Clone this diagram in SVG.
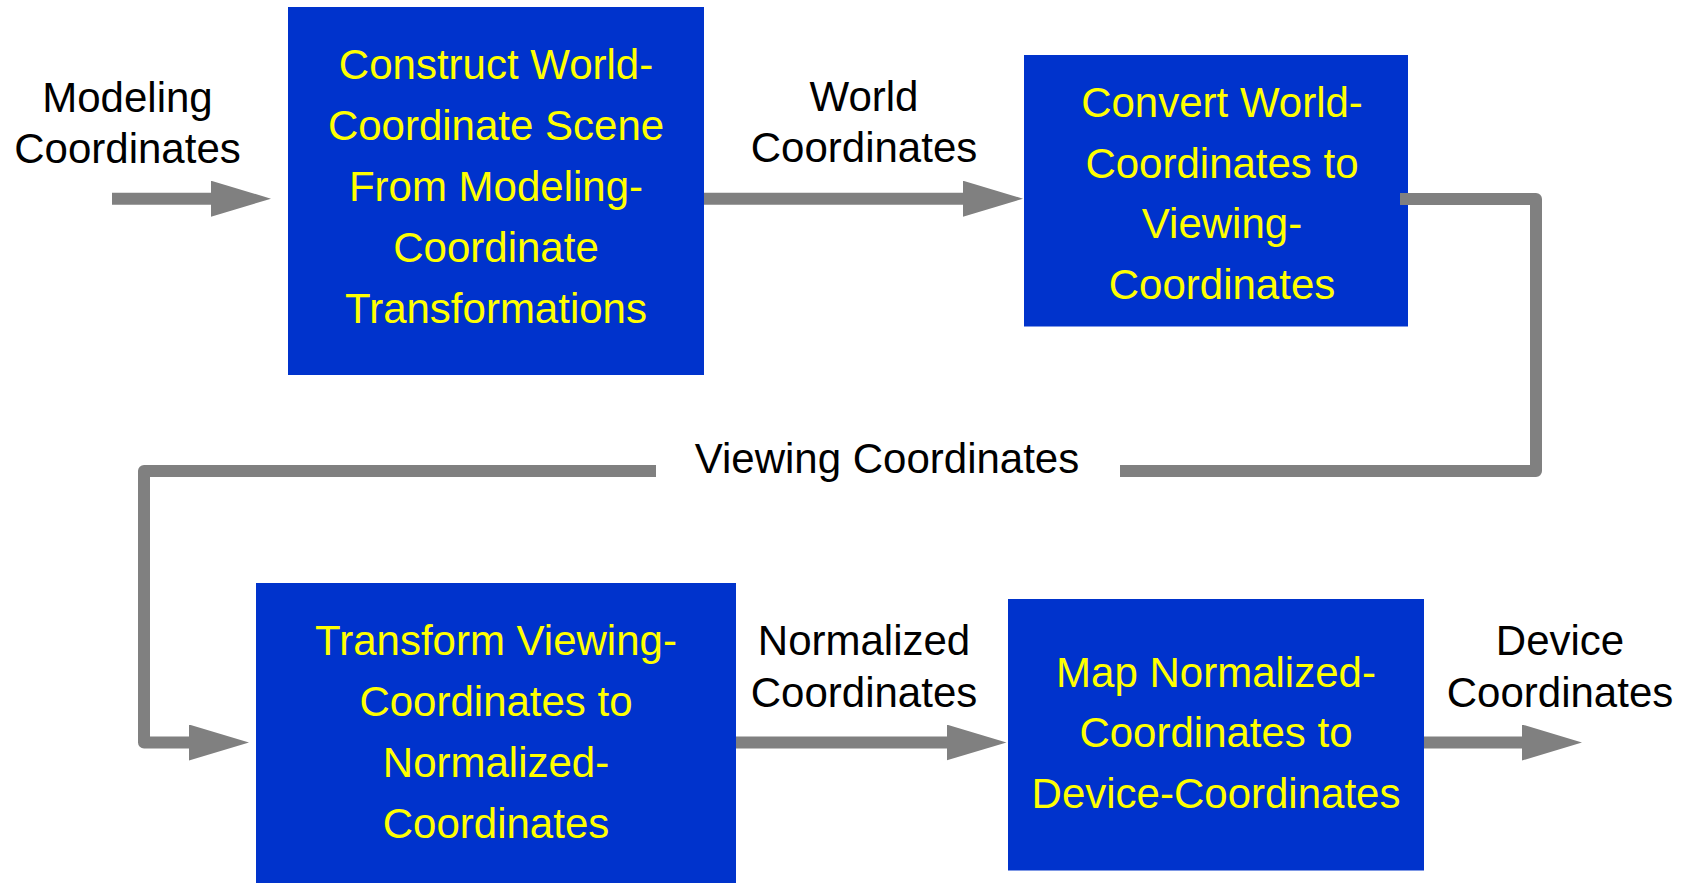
<svg xmlns="http://www.w3.org/2000/svg" width="1693" height="883" viewBox="0 0 1693 883">
<defs>
<style>
.box{fill:#0033CC}
.bt{font-family:"Liberation Sans",Arial,sans-serif;font-size:42px;fill:#FFFF00;text-anchor:middle}
.lb{font-family:"Liberation Sans",Arial,sans-serif;font-size:42px;fill:#000000;text-anchor:middle}
.ln{fill:none;stroke:#808080;stroke-width:12;stroke-linejoin:round}
</style>
<marker id="ah" viewBox="0 0 60 36" refX="10" refY="18" markerWidth="60" markerHeight="36" markerUnits="userSpaceOnUse" orient="auto">
<path d="M0,0 L60,18 L0,36 Z" fill="#808080"/>
</marker>
</defs>
<rect width="1693" height="883" fill="#FFFFFF"/>
<g id="labels">
<text class="lb" x="127.5" y="112">Modeling</text>
<text class="lb" x="127.5" y="163">Coordinates</text>
<text class="lb" x="864" y="111">World</text>
<text class="lb" x="864" y="162">Coordinates</text>
<text class="lb" x="887" y="473">Viewing Coordinates</text>
<text class="lb" x="864" y="655">Normalized</text>
<text class="lb" x="864" y="706.5">Coordinates</text>
<text class="lb" x="1560" y="655">Device</text>
<text class="lb" x="1560" y="706.5">Coordinates</text>
</g>
<g id="node1">
<rect class="box" x="288" y="7" width="416" height="368"/>
<text class="bt" x="496" y="79">Construct World-</text>
<text class="bt" x="496" y="139.5">Coordinate Scene</text>
<text class="bt" x="496" y="200.5">From Modeling-</text>
<text class="bt" x="496" y="262">Coordinate</text>
<text class="bt" x="496" y="323">Transformations</text>
</g>
<g id="node2">
<rect class="box" x="1024" y="55" width="384" height="271.5"/>
<text class="bt" x="1222" y="117">Convert World-</text>
<text class="bt" x="1222" y="177.5">Coordinates to</text>
<text class="bt" x="1222" y="238">Viewing-</text>
<text class="bt" x="1222" y="299">Coordinates</text>
</g>
<g id="node3">
<rect class="box" x="256" y="583" width="480" height="300"/>
<text class="bt" x="496" y="655">Transform Viewing-</text>
<text class="bt" x="496" y="715.5">Coordinates to</text>
<text class="bt" x="496" y="777">Normalized-</text>
<text class="bt" x="496" y="838">Coordinates</text>
</g>
<g id="node4">
<rect class="box" x="1008" y="599" width="416" height="271.5"/>
<text class="bt" x="1216" y="686.5">Map Normalized-</text>
<text class="bt" x="1216" y="747">Coordinates to</text>
<text class="bt" x="1216" y="808">Device-Coordinates</text>
</g>
<g id="connectors">
<line class="ln" x1="112" y1="198.7" x2="221" y2="198.7" marker-end="url(#ah)"/>
<line class="ln" x1="704" y1="198.7" x2="973" y2="198.7" marker-end="url(#ah)"/>
<polyline class="ln" points="1400,199 1536,199 1536,471 1120,471"/>
<polyline class="ln" points="656,471 144,471 144,742.5 199,742.5" marker-end="url(#ah)"/>
<line class="ln" x1="736" y1="742.5" x2="956.5" y2="742.5" marker-end="url(#ah)"/>
<line class="ln" x1="1424" y1="742.5" x2="1532" y2="742.5" marker-end="url(#ah)"/>
</g>
</svg>
